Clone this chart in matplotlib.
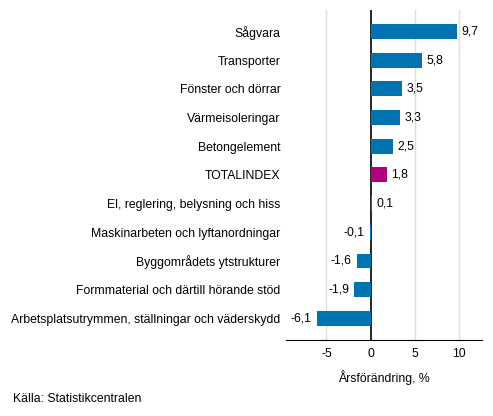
import matplotlib
matplotlib.use("Agg")
import matplotlib.pyplot as plt

plt.rcParams["font.family"] = ["Liberation Sans", "DejaVu Sans"]

categories = ["Sågvara", "Transporter", "Fönster och dörrar", "Värmeisoleringar",
              "Betongelement", "TOTALINDEX", "El, reglering, belysning och hiss",
              "Maskinarbeten och lyftanordningar", "Byggområdets ytstrukturer",
              "Formmaterial och därtill hörande stöd",
              "Arbetsplatsutrymmen, ställningar och väderskydd"]
values = [9.7, 5.8, 3.5, 3.3, 2.5, 1.8, 0.1, -0.1, -1.6, -1.9, -6.1]
xticks = [-5, 0, 5, 10]

BLUE = "#0073b0"
PURPLE = "#b0007b"
colors = [PURPLE if c == "TOTALINDEX" else BLUE for c in categories]
FS = 8.8

fig = plt.figure(figsize=(4.93, 4.16), dpi=100)
ax = fig.add_axes([0.580, 0.183, 0.398, 0.793])

ypos = list(range(len(categories)))
ax.barh(ypos, values, height=0.52, color=colors, zorder=5)
ax.set_ylim(len(categories) - 0.25, -0.75)
ax.set_xlim(-9.57, 12.58)

ax.set_yticks(ypos)
ax.set_yticklabels(categories, fontsize=FS)
ax.set_xticks(xticks)
ax.set_xticklabels([str(t) for t in xticks], fontsize=FS)
ax.tick_params(length=0, pad=6)
ax.tick_params(axis="y", pad=4)

for t in xticks:
    if t != 0:
        ax.axvline(t, color="#dddddd", lw=1, zorder=1)
ax.axvline(0, color="black", lw=1.2, zorder=4)

for s in ["top", "right", "left"]:
    ax.spines[s].set_visible(False)
ax.spines["bottom"].set_color("black")

for y, v in zip(ypos, values):
    lbl = f"{v:.1f}".replace(".", ",")
    if v >= 0:
        ax.text(v + 0.55, y, lbl, va="center", ha="left", fontsize=FS)
    else:
        ax.text(v - 0.55, y, lbl, va="center", ha="right", fontsize=FS)

ax.set_xlabel("Årsförändring, %", fontsize=FS, labelpad=7)
fig.text(0.026, 0.04, "Källa: Statistikcentralen", fontsize=FS, va="center")

fig.savefig("out.png", dpi=100)
